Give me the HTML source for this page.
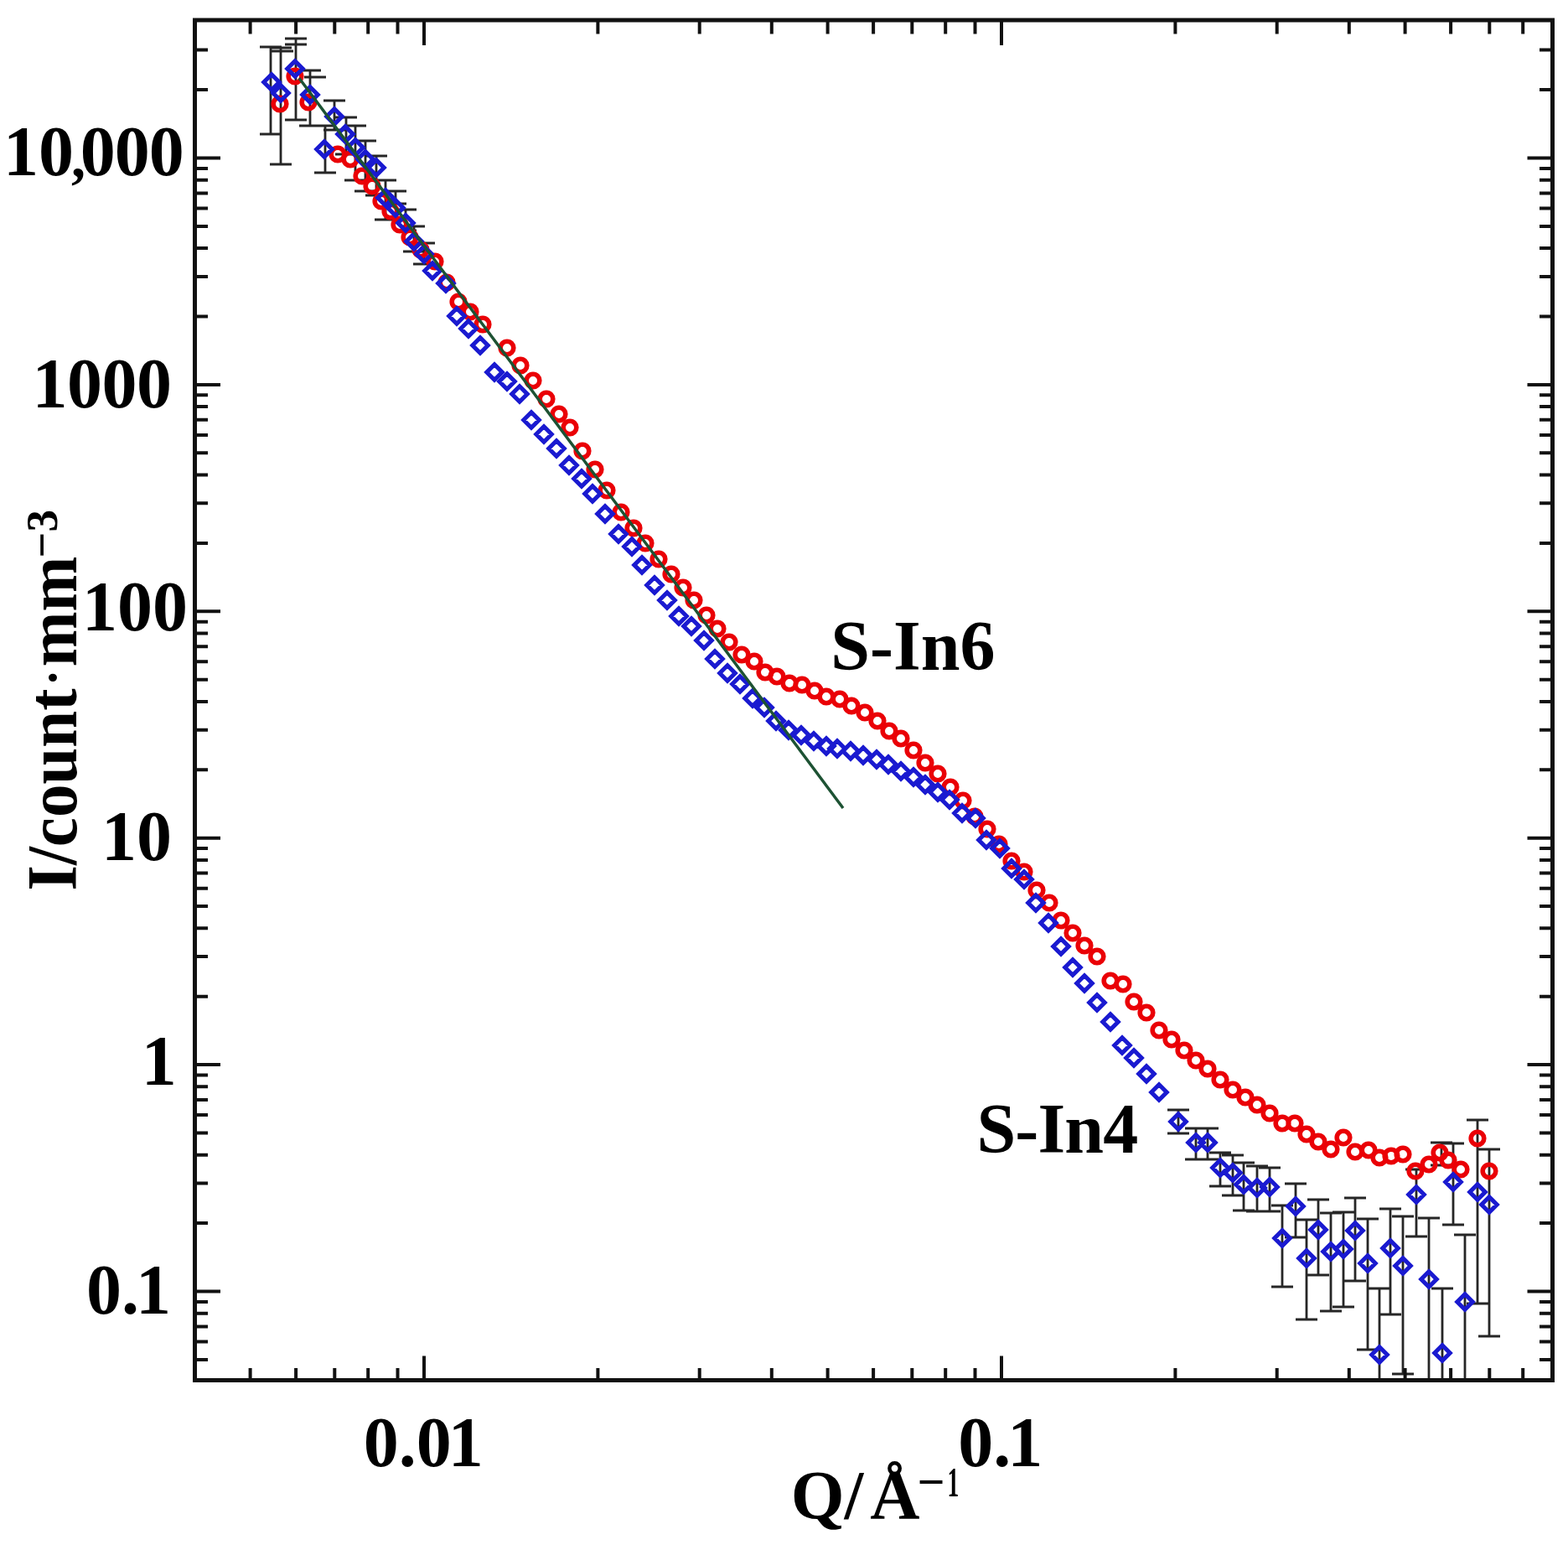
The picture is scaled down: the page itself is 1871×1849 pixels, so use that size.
<!DOCTYPE html>
<html><head><meta charset="utf-8"><style>
html,body{margin:0;padding:0;background:#fff;}
svg{display:block;}
text{font-family:"Liberation Serif","Times New Roman",serif;font-weight:bold;fill:#000;}
</style></head><body>
<svg width="1871" height="1849" viewBox="0 0 1871 1849">
<rect width="1871" height="1849" fill="#fff"/>
<g fill="none" stroke="#262626" stroke-width="2.8">
<path d="M323 56L323 160M310 56L336 56M310 160L336 160M335 57L335 196M322 57L348 57M322 196L348 196M353 46L353 143M340 46L366 46M340 143L366 143M370 84L370 150M357 84L383 84M357 150L383 150M388 150L388 206M375 150L401 150M375 206L401 206M399 120L399 155M386 120L412 120M386 155L412 155M413 140L413 184M400 140L426 140M400 184L426 184M424 150L424 215M411 150L437 150M411 215L437 215M436 168L436 228M423 168L449 168M423 228L449 228M449 186L449 233M436 186L462 186M436 233L462 233M460 215L460 262M447 215L473 215M447 262L473 262M472 228L472 243M459 228L485 228M459 243L485 243M484 250L484 275M471 250L497 250M471 275L497 275M494 270L494 300M481 270L507 270M481 300L507 300M506 290L506 315M493 290L519 290M493 315L519 315M1406 1324L1406 1352M1393 1324L1419 1324M1393 1352L1419 1352M1427 1346L1427 1383M1414 1346L1440 1346M1414 1383L1440 1383M1441 1346L1441 1383M1428 1346L1454 1346M1428 1383L1454 1383M1456 1375L1456 1415M1443 1375L1469 1375M1443 1415L1469 1415M1471 1378L1471 1426M1458 1378L1484 1378M1458 1426L1484 1426M1484 1387L1484 1444M1471 1387L1497 1387M1471 1444L1497 1444M1500 1391L1500 1445M1487 1391L1513 1391M1487 1445L1513 1445M1515 1393L1515 1445M1502 1393L1528 1393M1502 1445L1528 1445M1530 1438L1530 1535M1517 1438L1543 1438M1517 1535L1543 1535M1546 1412L1546 1476M1533 1412L1559 1412M1533 1476L1559 1476M1559 1455L1559 1574M1546 1455L1572 1455M1546 1574L1572 1574M1573 1431L1573 1521M1560 1431L1586 1431M1560 1521L1586 1521M1588 1447L1588 1564M1575 1447L1601 1447M1575 1564L1601 1564M1603 1446L1603 1559M1590 1446L1616 1446M1590 1559L1616 1559M1617 1429L1617 1528M1604 1429L1630 1429M1604 1528L1630 1528M1632 1454L1632 1610M1619 1454L1645 1454M1619 1610L1645 1610M1646 1537L1646 1646M1633 1537L1659 1537M1659 1442L1659 1568M1646 1442L1672 1442M1646 1568L1672 1568M1674 1451L1674 1639M1661 1451L1687 1451M1661 1639L1687 1639M1690 1395L1690 1475M1677 1395L1703 1395M1677 1475L1703 1475M1705 1453L1705 1646M1692 1453L1718 1453M1721 1537L1721 1646M1708 1537L1734 1537M1734 1364L1734 1461M1721 1364L1747 1364M1721 1461L1747 1461M1720 1363L1720 1390M1707 1363L1733 1363M1707 1390L1733 1390M1748 1473L1748 1646M1735 1473L1761 1473M1763 1336L1763 1555M1750 1336L1776 1336M1750 1555L1776 1555M1777 1371L1777 1594M1764 1371L1790 1371M1764 1594L1790 1594M324 61L350 61M340 53L366 53M363 92L389 92M431 215L457 215"/>
</g>
<g fill="none" stroke="#ea0006" stroke-width="5.6">
<circle cx="334" cy="124" r="7.8"/><circle cx="352" cy="91" r="7.8"/><circle cx="368" cy="122" r="7.8"/><circle cx="403" cy="184" r="7.8"/><circle cx="418" cy="190" r="7.8"/><circle cx="432" cy="210" r="7.8"/><circle cx="444" cy="222" r="7.8"/><circle cx="455" cy="240" r="7.8"/><circle cx="466" cy="252" r="7.8"/><circle cx="477" cy="268" r="7.8"/><circle cx="489" cy="283" r="7.8"/><circle cx="502" cy="298" r="7.8"/><circle cx="519" cy="312" r="7.8"/><circle cx="533" cy="337" r="7.8"/><circle cx="547" cy="360" r="7.8"/><circle cx="561" cy="372" r="7.8"/><circle cx="576" cy="387" r="7.8"/><circle cx="605" cy="415" r="7.8"/><circle cx="621" cy="436" r="7.8"/><circle cx="636" cy="454" r="7.8"/><circle cx="652" cy="476" r="7.8"/><circle cx="667" cy="494" r="7.8"/><circle cx="680" cy="510" r="7.8"/><circle cx="695" cy="538" r="7.8"/><circle cx="710" cy="560" r="7.8"/><circle cx="724" cy="585" r="7.8"/><circle cx="741" cy="611" r="7.8"/><circle cx="756" cy="630" r="7.8"/><circle cx="770" cy="648" r="7.8"/><circle cx="786" cy="667" r="7.8"/><circle cx="801" cy="685" r="7.8"/><circle cx="815" cy="701" r="7.8"/><circle cx="828" cy="716" r="7.8"/><circle cx="843" cy="734" r="7.8"/><circle cx="856" cy="750" r="7.8"/><circle cx="870" cy="766" r="7.8"/><circle cx="885" cy="781" r="7.8"/><circle cx="900" cy="789" r="7.8"/><circle cx="913" cy="802" r="7.8"/><circle cx="927" cy="807" r="7.8"/><circle cx="942" cy="815" r="7.8"/><circle cx="957" cy="817" r="7.8"/><circle cx="972" cy="824" r="7.8"/><circle cx="986" cy="831" r="7.8"/><circle cx="1002" cy="834" r="7.8"/><circle cx="1016" cy="842" r="7.8"/><circle cx="1032" cy="850" r="7.8"/><circle cx="1047" cy="860" r="7.8"/><circle cx="1061" cy="872" r="7.8"/><circle cx="1075" cy="881" r="7.8"/><circle cx="1090" cy="895" r="7.8"/><circle cx="1104" cy="910" r="7.8"/><circle cx="1119" cy="923" r="7.8"/><circle cx="1134" cy="939" r="7.8"/><circle cx="1149" cy="955" r="7.8"/><circle cx="1163" cy="974" r="7.8"/><circle cx="1178" cy="989" r="7.8"/><circle cx="1192" cy="1007" r="7.8"/><circle cx="1207" cy="1027" r="7.8"/><circle cx="1222" cy="1040" r="7.8"/><circle cx="1237" cy="1062" r="7.8"/><circle cx="1252" cy="1077" r="7.8"/><circle cx="1266" cy="1098" r="7.8"/><circle cx="1280" cy="1113" r="7.8"/><circle cx="1294" cy="1128" r="7.8"/><circle cx="1309" cy="1141" r="7.8"/><circle cx="1325" cy="1170" r="7.8"/><circle cx="1340" cy="1174" r="7.8"/><circle cx="1353" cy="1195" r="7.8"/><circle cx="1368" cy="1208" r="7.8"/><circle cx="1383" cy="1229" r="7.8"/><circle cx="1398" cy="1240" r="7.8"/><circle cx="1413" cy="1253" r="7.8"/><circle cx="1427" cy="1265" r="7.8"/><circle cx="1441" cy="1275" r="7.8"/><circle cx="1456" cy="1288" r="7.8"/><circle cx="1471" cy="1300" r="7.8"/><circle cx="1486" cy="1309" r="7.8"/><circle cx="1500" cy="1318" r="7.8"/><circle cx="1515" cy="1328" r="7.8"/><circle cx="1530" cy="1340" r="7.8"/><circle cx="1545" cy="1340" r="7.8"/><circle cx="1559" cy="1353" r="7.8"/><circle cx="1573" cy="1362" r="7.8"/><circle cx="1588" cy="1371" r="7.8"/><circle cx="1603" cy="1357" r="7.8"/><circle cx="1617" cy="1374" r="7.8"/><circle cx="1633" cy="1372" r="7.8"/><circle cx="1646" cy="1381" r="7.8"/><circle cx="1660" cy="1379" r="7.8"/><circle cx="1674" cy="1377" r="7.8"/><circle cx="1689" cy="1397" r="7.8"/><circle cx="1705" cy="1389" r="7.8"/><circle cx="1718" cy="1375" r="7.8"/><circle cx="1728" cy="1384" r="7.8"/><circle cx="1743" cy="1395" r="7.8"/><circle cx="1763" cy="1358" r="7.8"/><circle cx="1777" cy="1397" r="7.8"/>
</g>
<g fill="none" stroke="#1a1ad0" stroke-width="5.1" stroke-linejoin="miter">
<path d="M324 88.8L333.2 98L324 107.2L314.8 98ZM335 101.8L344.2 111L335 120.2L325.8 111ZM352 72.8L361.2 82L352 91.2L342.8 82ZM370 103.8L379.2 113L370 122.2L360.8 113ZM387 168.8L396.2 178L387 187.2L377.8 178ZM399 129.8L408.2 139L399 148.2L389.8 139ZM412 150.8L421.2 160L412 169.2L402.8 160ZM424 166.8L433.2 176L424 185.2L414.8 176ZM436 180.8L445.2 190L436 199.2L426.8 190ZM449 190.8L458.2 200L449 209.2L439.8 200ZM460 226.8L469.2 236L460 245.2L450.8 236ZM472 238.8L481.2 248L472 257.2L462.8 248ZM484 256.8L493.2 266L484 275.2L474.8 266ZM494 278.8L503.2 288L494 297.2L484.8 288ZM506 293.8L515.2 303L506 312.2L496.8 303ZM516 313.8L525.2 323L516 332.2L506.8 323ZM532 328.8L541.2 338L532 347.2L522.8 338ZM545 367.8L554.2 377L545 386.2L535.8 377ZM559 382.8L568.2 392L559 401.2L549.8 392ZM573 402.8L582.2 412L573 421.2L563.8 412ZM590 434.8L599.2 444L590 453.2L580.8 444ZM605 445.8L614.2 455L605 464.2L595.8 455ZM620 460.8L629.2 470L620 479.2L610.8 470ZM634 491.8L643.2 501L634 510.2L624.8 501ZM649 508.8L658.2 518L649 527.2L639.8 518ZM664 525.8L673.2 535L664 544.2L654.8 535ZM679 545.8L688.2 555L679 564.2L669.8 555ZM694 561.8L703.2 571L694 580.2L684.8 571ZM707 579.8L716.2 589L707 598.2L697.8 589ZM722 603.8L731.2 613L722 622.2L712.8 613ZM738 627.8L747.2 637L738 646.2L728.8 637ZM754 642.8L763.2 652L754 661.2L744.8 652ZM766 664.8L775.2 674L766 683.2L756.8 674ZM781 688.8L790.2 698L781 707.2L771.8 698ZM796 706.8L805.2 716L796 725.2L786.8 716ZM810 725.8L819.2 735L810 744.2L800.8 735ZM825 737.8L834.2 747L825 756.2L815.8 747ZM840 754.8L849.2 764L840 773.2L830.8 764ZM853 776.8L862.2 786L853 795.2L843.8 786ZM868 793.8L877.2 803L868 812.2L858.8 803ZM883 806.8L892.2 816L883 825.2L873.8 816ZM898 823.8L907.2 833L898 842.2L888.8 833ZM912 834.8L921.2 844L912 853.2L902.8 844ZM926 850.8L935.2 860L926 869.2L916.8 860ZM941 861.8L950.2 871L941 880.2L931.8 871ZM956 867.8L965.2 877L956 886.2L946.8 877ZM971 874.8L980.2 884L971 893.2L961.8 884ZM986 880.8L995.2 890L986 899.2L976.8 890ZM999 883.8L1008.2 893L999 902.2L989.8 893ZM1015 886.8L1024.2 896L1015 905.2L1005.8 896ZM1030 891.8L1039.2 901L1030 910.2L1020.8 901ZM1046 896.8L1055.2 906L1046 915.2L1036.8 906ZM1060 902.8L1069.2 912L1060 921.2L1050.8 912ZM1075 910.8L1084.2 920L1075 929.2L1065.8 920ZM1090 917.8L1099.2 927L1090 936.2L1080.8 927ZM1104 926.8L1113.2 936L1104 945.2L1094.8 936ZM1119 935.8L1128.2 945L1119 954.2L1109.8 945ZM1133 944.8L1142.2 954L1133 963.2L1123.8 954ZM1148 960.8L1157.2 970L1148 979.2L1138.8 970ZM1164 966.8L1173.2 976L1164 985.2L1154.8 976ZM1177 992.8L1186.2 1002L1177 1011.2L1167.8 1002ZM1193 1002.8L1202.2 1012L1193 1021.2L1183.8 1012ZM1207 1026.8L1216.2 1036L1207 1045.2L1197.8 1036ZM1222 1039.8L1231.2 1049L1222 1058.2L1212.8 1049ZM1236 1067.8L1245.2 1077L1236 1086.2L1226.8 1077ZM1251 1091.8L1260.2 1101L1251 1110.2L1241.8 1101ZM1266 1119.8L1275.2 1129L1266 1138.2L1256.8 1129ZM1280 1144.8L1289.2 1154L1280 1163.2L1270.8 1154ZM1294 1163.8L1303.2 1173L1294 1182.2L1284.8 1173ZM1309 1186.8L1318.2 1196L1309 1205.2L1299.8 1196ZM1325 1209.8L1334.2 1219L1325 1228.2L1315.8 1219ZM1339 1237.8L1348.2 1247L1339 1256.2L1329.8 1247ZM1353 1252.8L1362.2 1262L1353 1271.2L1343.8 1262ZM1368 1271.8L1377.2 1281L1368 1290.2L1358.8 1281ZM1383 1293.8L1392.2 1303L1383 1312.2L1373.8 1303ZM1406 1328.8L1415.2 1338L1406 1347.2L1396.8 1338ZM1427 1353.8L1436.2 1363L1427 1372.2L1417.8 1363ZM1441 1353.8L1450.2 1363L1441 1372.2L1431.8 1363ZM1456 1383.8L1465.2 1393L1456 1402.2L1446.8 1393ZM1471 1389.8L1480.2 1399L1471 1408.2L1461.8 1399ZM1484 1403.8L1493.2 1413L1484 1422.2L1474.8 1413ZM1500 1407.8L1509.2 1417L1500 1426.2L1490.8 1417ZM1515 1406.8L1524.2 1416L1515 1425.2L1505.8 1416ZM1530 1467.8L1539.2 1477L1530 1486.2L1520.8 1477ZM1546 1429.8L1555.2 1439L1546 1448.2L1536.8 1439ZM1559 1491.8L1568.2 1501L1559 1510.2L1549.8 1501ZM1573 1457.8L1582.2 1467L1573 1476.2L1563.8 1467ZM1588 1483.8L1597.2 1493L1588 1502.2L1578.8 1493ZM1603 1480.8L1612.2 1490L1603 1499.2L1593.8 1490ZM1617 1458.8L1626.2 1468L1617 1477.2L1607.8 1468ZM1632 1497.8L1641.2 1507L1632 1516.2L1622.8 1507ZM1646 1606.8L1655.2 1616L1646 1625.2L1636.8 1616ZM1659 1479.8L1668.2 1489L1659 1498.2L1649.8 1489ZM1674 1500.8L1683.2 1510L1674 1519.2L1664.8 1510ZM1690 1415.8L1699.2 1425L1690 1434.2L1680.8 1425ZM1705 1516.8L1714.2 1526L1705 1535.2L1695.8 1526ZM1721 1604.8L1730.2 1614L1721 1623.2L1711.8 1614ZM1734 1400.8L1743.2 1410L1734 1419.2L1724.8 1410ZM1748 1543.8L1757.2 1553L1748 1562.2L1738.8 1553ZM1763 1412.8L1772.2 1422L1763 1431.2L1753.8 1422ZM1777 1427.8L1786.2 1437L1777 1446.2L1767.8 1437Z"/>
</g>
<path d="M357 93.3L1006 964" stroke="#1d5233" stroke-width="3.5" fill="none"/>
<g stroke="#111" fill="none">
<rect x="232.5" y="24.0" width="1620.0" height="1622.5" stroke-width="5"/>
<path d="M232.5 1621.9L248.0 1621.9M1852.5 1621.9L1837.0 1621.9M232.5 1600.5L248.0 1600.5M1852.5 1600.5L1837.0 1600.5M232.5 1582.4L248.0 1582.4M1852.5 1582.4L1837.0 1582.4M232.5 1566.7L248.0 1566.7M1852.5 1566.7L1837.0 1566.7M232.5 1552.9L248.0 1552.9M1852.5 1552.9L1837.0 1552.9M232.5 1540.5L263.0 1540.5M1852.5 1540.5L1822.5 1540.5M232.5 1459.1L248.0 1459.1M1852.5 1459.1L1837.0 1459.1M232.5 1411.5L248.0 1411.5M1852.5 1411.5L1837.0 1411.5M232.5 1377.7L248.0 1377.7M1852.5 1377.7L1837.0 1377.7M232.5 1351.5L248.0 1351.5M1852.5 1351.5L1837.0 1351.5M232.5 1330.1L248.0 1330.1M1852.5 1330.1L1837.0 1330.1M232.5 1312.0L248.0 1312.0M1852.5 1312.0L1837.0 1312.0M232.5 1296.3L248.0 1296.3M1852.5 1296.3L1837.0 1296.3M232.5 1282.5L248.0 1282.5M1852.5 1282.5L1837.0 1282.5M232.5 1270.1L263.0 1270.1M1852.5 1270.1L1822.5 1270.1M232.5 1188.7L248.0 1188.7M1852.5 1188.7L1837.0 1188.7M232.5 1141.1L248.0 1141.1M1852.5 1141.1L1837.0 1141.1M232.5 1107.3L248.0 1107.3M1852.5 1107.3L1837.0 1107.3M232.5 1081.1L248.0 1081.1M1852.5 1081.1L1837.0 1081.1M232.5 1059.7L248.0 1059.7M1852.5 1059.7L1837.0 1059.7M232.5 1041.6L248.0 1041.6M1852.5 1041.6L1837.0 1041.6M232.5 1025.9L248.0 1025.9M1852.5 1025.9L1837.0 1025.9M232.5 1012.1L248.0 1012.1M1852.5 1012.1L1837.0 1012.1M232.5 999.7L263.0 999.7M1852.5 999.7L1822.5 999.7M232.5 918.3L248.0 918.3M1852.5 918.3L1837.0 918.3M232.5 870.7L248.0 870.7M1852.5 870.7L1837.0 870.7M232.5 836.9L248.0 836.9M1852.5 836.9L1837.0 836.9M232.5 810.7L248.0 810.7M1852.5 810.7L1837.0 810.7M232.5 789.3L248.0 789.3M1852.5 789.3L1837.0 789.3M232.5 771.2L248.0 771.2M1852.5 771.2L1837.0 771.2M232.5 755.5L248.0 755.5M1852.5 755.5L1837.0 755.5M232.5 741.7L248.0 741.7M1852.5 741.7L1837.0 741.7M232.5 729.3L263.0 729.3M1852.5 729.3L1822.5 729.3M232.5 647.9L248.0 647.9M1852.5 647.9L1837.0 647.9M232.5 600.3L248.0 600.3M1852.5 600.3L1837.0 600.3M232.5 566.5L248.0 566.5M1852.5 566.5L1837.0 566.5M232.5 540.3L248.0 540.3M1852.5 540.3L1837.0 540.3M232.5 518.9L248.0 518.9M1852.5 518.9L1837.0 518.9M232.5 500.8L248.0 500.8M1852.5 500.8L1837.0 500.8M232.5 485.1L248.0 485.1M1852.5 485.1L1837.0 485.1M232.5 471.3L248.0 471.3M1852.5 471.3L1837.0 471.3M232.5 458.9L263.0 458.9M1852.5 458.9L1822.5 458.9M232.5 377.5L248.0 377.5M1852.5 377.5L1837.0 377.5M232.5 329.9L248.0 329.9M1852.5 329.9L1837.0 329.9M232.5 296.1L248.0 296.1M1852.5 296.1L1837.0 296.1M232.5 269.9L248.0 269.9M1852.5 269.9L1837.0 269.9M232.5 248.5L248.0 248.5M1852.5 248.5L1837.0 248.5M232.5 230.4L248.0 230.4M1852.5 230.4L1837.0 230.4M232.5 214.7L248.0 214.7M1852.5 214.7L1837.0 214.7M232.5 200.9L248.0 200.9M1852.5 200.9L1837.0 200.9M232.5 188.5L263.0 188.5M1852.5 188.5L1822.5 188.5M232.5 107.1L248.0 107.1M1852.5 107.1L1837.0 107.1M232.5 59.5L248.0 59.5M1852.5 59.5L1837.0 59.5M298.6 1646.5L298.6 1632.0M298.6 24.0L298.6 40.5M353.1 1646.5L353.1 1632.0M353.1 24.0L353.1 40.5M399.3 1646.5L399.3 1632.0M399.3 24.0L399.3 40.5M439.2 1646.5L439.2 1632.0M439.2 24.0L439.2 40.5M474.5 1646.5L474.5 1632.0M474.5 24.0L474.5 40.5M506.0 1646.5L506.0 1617.5M506.0 24.0L506.0 54.0M713.4 1646.5L713.4 1632.0M713.4 24.0L713.4 40.5M834.7 1646.5L834.7 1632.0M834.7 24.0L834.7 40.5M920.8 1646.5L920.8 1632.0M920.8 24.0L920.8 40.5M987.6 1646.5L987.6 1632.0M987.6 24.0L987.6 40.5M1042.1 1646.5L1042.1 1632.0M1042.1 24.0L1042.1 40.5M1088.3 1646.5L1088.3 1632.0M1088.3 24.0L1088.3 40.5M1128.2 1646.5L1128.2 1632.0M1128.2 24.0L1128.2 40.5M1163.5 1646.5L1163.5 1632.0M1163.5 24.0L1163.5 40.5M1195.0 1646.5L1195.0 1617.5M1195.0 24.0L1195.0 54.0M1402.4 1646.5L1402.4 1632.0M1402.4 24.0L1402.4 40.5M1523.7 1646.5L1523.7 1632.0M1523.7 24.0L1523.7 40.5M1609.8 1646.5L1609.8 1632.0M1609.8 24.0L1609.8 40.5M1676.6 1646.5L1676.6 1632.0M1676.6 24.0L1676.6 40.5M1731.1 1646.5L1731.1 1632.0M1731.1 24.0L1731.1 40.5M1777.3 1646.5L1777.3 1632.0M1777.3 24.0L1777.3 40.5M1817.2 1646.5L1817.2 1632.0M1817.2 24.0L1817.2 40.5" stroke-width="4"/>
</g>
<g font-size="84">
<text x="3.9" y="209">10</text>
<text x="85" y="211.3" font-size="68">,</text>
<text x="95.8" y="209" letter-spacing="-1">000</text>
<text x="38.4" y="486" letter-spacing="-0.5">1000</text>
<text x="98" y="752">100</text>
<text x="121" y="1026">10</text>
<text x="168.8" y="1294">1</text>
<text x="103" y="1567">0.<tspan dx="-4">1</tspan></text>
<text x="433.8" y="1748.5">0.0<tspan dx="-4">1</tspan></text>
<text x="1143.3" y="1748.5">0.<tspan dx="-4">1</tspan></text>
<text x="991.3" y="799">S-In6</text>
<text x="1165.4" y="1375" letter-spacing="-0.8">S-In4</text>
</g>
<text x="943.7" y="1810.5" font-size="82">Q/<tspan dx="8">Å</tspan></text>
<text x="1094.5" y="1787.3" font-size="58" font-weight="normal">−</text>
<text transform="translate(1130.5 1784.5) scale(0.55 1)" font-size="50" font-weight="normal">1</text>
<text transform="translate(91.2 1062.8) rotate(-90) scale(0.94 1)" font-size="84">I/count<tspan font-weight="normal">·</tspan>mm</text>
<text transform="translate(68.3 665.4) rotate(-90)" font-size="54" font-weight="normal">−<tspan font-size="53">3</tspan></text>
</svg>
</body></html>
